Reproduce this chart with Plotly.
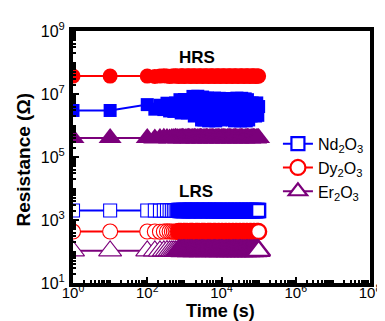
import plotly.graph_objects as go

# ---- data ----
time_s = [1, 10, 100, 160, 220, 280, 340, 400, 460, 520, 580, 640, 700, 760, 820, 880, 940, 1000,
          1100, 1200, 1300, 1400, 1500, 1600, 1700, 1850, 2000, 2150, 2300, 2500, 2700, 2900, 3100,
          3350, 3600, 3900, 4200, 4500, 4850, 5200, 5600, 6000, 6500, 7000, 7500, 8100, 8700, 9300,
          10000, 10800, 11600, 12500, 13500, 14500, 15600, 16800, 18000, 19400, 20800, 22400, 24000,
          26000, 28000, 30000, 32500, 35000, 37500, 40500, 43500, 46500, 50000, 54000, 58000, 62500,
          67000, 72000, 77500, 83000, 89000, 95000, 100000]

hrs_nd = [3.0e6, 3.0e6,
          4.6e6, 3.3e6, 4.4e6, 3.2e6,
          5.1e6, 2.9e6, 4.8e6, 2.8e6, 5.2e6, 3.0e6, 4.5e6,
          6.6e6, 2.5e6, 5.8e6, 2.6e6, 6.7e6, 3.4e6, 2.5e6, 6.2e6, 2.7e6, 6.6e6, 3.9e6,
          8.4e6, 2.0e6, 7.0e6, 2.1e6, 8.5e6, 2.4e6, 7.6e6, 1.5e6, 8.0e6,
          1.5e6, 7.3e6, 2.2e6, 7.4e6, 1.4e6, 5.0e6, 7.2e6, 1.5e6, 3.1e6, 7.4e6, 1.4e6, 6.8e6, 2.0e6,
          7.3e6, 1.5e6, 4.2e6, 7.1e6,
          4.8e6, 1.7e6, 4.5e6, 1.8e6, 4.7e6, 1.7e6,
          7.2e6, 1.5e6, 6.8e6, 1.4e6, 3.5e6, 7.4e6, 1.6e6, 6.9e6, 1.4e6, 7.3e6, 2.6e6, 1.5e6, 7.0e6,
          1.4e6, 6.6e6, 1.5e6,
          5.1e6, 2.0e6, 5.2e6, 2.1e6, 4.9e6, 2.0e6, 5.2e6, 2.1e6, 4.0e6]

hrs_dy = [3.7e7, 3.7e7, 3.7e7, 3.6e7, 3.7e7, 3.8e7, 3.7e7, 3.6e7, 3.7e7, 3.7e7, 3.8e7, 3.7e7,
          3.6e7, 3.7e7, 3.7e7, 3.8e7, 3.7e7, 3.6e7, 3.7e7, 3.7e7, 3.8e7, 3.7e7, 3.6e7, 3.7e7,
          3.7e7, 3.8e7, 3.7e7, 3.6e7, 3.7e7, 3.7e7, 3.8e7, 3.7e7, 3.6e7, 3.7e7, 3.7e7, 3.8e7,
          3.7e7, 3.6e7, 3.7e7, 3.7e7, 3.8e7, 3.7e7, 3.6e7, 3.7e7, 3.7e7, 3.8e7, 3.7e7, 3.6e7,
          3.7e7, 3.7e7, 3.8e7, 3.7e7, 3.6e7, 3.7e7, 3.7e7, 3.8e7, 3.7e7, 3.6e7, 3.7e7, 3.7e7,
          3.8e7, 3.7e7, 3.6e7, 3.7e7, 3.7e7, 3.8e7, 3.7e7, 3.6e7, 3.7e7, 3.7e7, 3.8e7, 3.7e7,
          3.6e7, 3.7e7, 3.7e7, 3.8e7, 3.7e7, 3.6e7, 3.7e7, 3.7e7, 3.7e7]

hrs_er = [4.0e5, 4.0e5, 4.0e5, 3.9e5, 4.0e5, 4.1e5, 4.0e5, 3.9e5, 4.0e5, 4.0e5, 4.1e5, 4.0e5,
          3.9e5, 4.0e5, 4.0e5, 4.1e5, 4.0e5, 3.9e5, 4.0e5, 4.0e5, 4.1e5, 4.0e5, 3.9e5, 4.0e5,
          4.0e5, 4.1e5, 4.0e5, 3.9e5, 4.0e5, 4.0e5, 4.1e5, 4.0e5, 3.9e5, 4.0e5, 4.0e5, 4.1e5,
          4.0e5, 3.9e5, 4.0e5, 4.0e5, 4.1e5, 4.0e5, 3.9e5, 4.0e5, 4.0e5, 4.1e5, 4.0e5, 3.9e5,
          4.0e5, 4.0e5, 4.1e5, 4.0e5, 3.9e5, 4.0e5, 4.0e5, 4.1e5, 4.0e5, 3.9e5, 4.0e5, 4.0e5,
          4.1e5, 4.0e5, 3.9e5, 4.0e5, 4.0e5, 4.1e5, 4.0e5, 3.9e5, 4.0e5, 4.0e5, 4.1e5, 4.0e5,
          3.9e5, 4.0e5, 4.0e5, 4.1e5, 4.0e5, 3.9e5, 4.0e5, 4.0e5, 4.0e5]

lrs_nd = [2.0e3, 2.0e3, 2.0e3, 2.0e3, 1.98e3, 2.0e3, 2.02e3, 2.0e3, 2.0e3, 1.98e3, 2.0e3, 2.0e3,
          2.02e3, 2.0e3, 2.0e3, 1.98e3, 2.0e3, 2.0e3, 2.02e3, 2.0e3, 1.98e3, 2.0e3, 2.0e3, 2.02e3,
          2.0e3, 1.98e3, 2.0e3, 2.0e3, 2.02e3, 2.0e3, 1.98e3, 2.0e3, 2.0e3, 2.02e3, 2.0e3, 1.98e3,
          2.0e3, 2.0e3, 2.02e3, 2.0e3, 1.96e3, 2.0e3, 2.0e3, 2.02e3, 1.95e3, 2.0e3, 2.0e3, 1.96e3,
          2.0e3, 2.0e3, 1.95e3, 2.0e3, 2.0e3, 1.96e3, 2.0e3, 2.0e3, 1.95e3, 2.0e3, 2.0e3, 1.96e3,
          2.0e3, 2.0e3, 1.95e3, 2.0e3, 2.0e3, 1.96e3, 2.0e3, 2.0e3, 1.95e3, 2.0e3, 2.0e3, 1.96e3,
          2.0e3, 2.0e3, 1.95e3, 2.0e3, 2.0e3, 1.96e3, 2.0e3, 2.0e3, 2.0e3]

lrs_dy = [4.3e2, 4.3e2, 4.3e2, 4.3e2, 4.25e2, 4.3e2, 4.35e2, 4.3e2, 4.3e2, 4.25e2, 4.3e2, 4.3e2,
          4.35e2, 4.3e2, 4.3e2, 4.25e2, 4.3e2, 4.3e2, 4.35e2, 4.3e2, 4.25e2, 4.3e2, 4.3e2, 4.35e2,
          4.3e2, 4.25e2, 4.3e2, 4.3e2, 4.35e2, 4.3e2, 4.25e2, 4.3e2, 4.3e2, 4.35e2, 4.3e2, 4.25e2,
          4.3e2, 4.3e2, 4.35e2, 4.3e2, 4.2e2, 4.3e2, 4.3e2, 4.35e2, 4.2e2, 4.3e2, 4.3e2, 4.2e2,
          4.3e2, 4.3e2, 4.2e2, 4.3e2, 4.3e2, 4.2e2, 4.3e2, 4.3e2, 4.2e2, 4.3e2, 4.3e2, 4.2e2,
          4.3e2, 4.3e2, 4.2e2, 4.3e2, 4.3e2, 4.2e2, 4.3e2, 4.3e2, 4.2e2, 4.3e2, 4.3e2, 4.2e2,
          4.3e2, 4.3e2, 4.2e2, 4.3e2, 4.3e2, 4.2e2, 4.3e2, 4.3e2, 4.3e2]

lrs_er = [1.05e2, 1.05e2, 1.05e2, 1.05e2, 1.04e2, 1.05e2, 1.06e2, 1.05e2, 1.05e2, 1.04e2, 1.05e2, 1.05e2,
          1.06e2, 1.05e2, 1.05e2, 1.04e2, 1.05e2, 1.05e2, 1.06e2, 1.05e2, 1.04e2, 1.05e2, 1.05e2, 1.06e2,
          1.05e2, 1.04e2, 1.05e2, 1.05e2, 1.06e2, 1.05e2, 1.04e2, 1.05e2, 1.05e2, 1.06e2, 1.05e2, 1.04e2,
          1.05e2, 1.05e2, 1.06e2, 1.05e2, 1.04e2, 1.05e2, 1.05e2, 1.06e2, 1.04e2, 1.05e2, 1.05e2, 1.04e2,
          1.05e2, 1.05e2, 1.04e2, 1.05e2, 1.05e2, 1.04e2, 1.05e2, 1.05e2, 1.04e2, 1.05e2, 1.05e2, 1.04e2,
          1.05e2, 1.05e2, 1.04e2, 1.05e2, 1.05e2, 1.04e2, 1.05e2, 1.05e2, 1.04e2, 1.05e2, 1.05e2, 1.04e2,
          1.05e2, 1.05e2, 1.04e2, 1.05e2, 1.05e2, 1.04e2, 1.05e2, 1.05e2, 1.05e2]

materials = ["Nd<sub>2</sub>O<sub>3</sub>", "Dy<sub>2</sub>O<sub>3</sub>", "Er<sub>2</sub>O<sub>3</sub>"]
colors = ["#0000FF", "#FF0000", "#7B007B"]
symbols = ["square", "circle", "triangle-up"]
sizes = [13, 15, 20]

x_tickvals = [1, 1e2, 1e4, 1e6, 1e8]
x_ticktext = ["10<sup>0</sup>", "10<sup>2</sup>", "10<sup>4</sup>", "10<sup>6</sup>", "10<sup>8</sup>"]
y_tickvals = [1e1, 1e3, 1e5, 1e7, 1e9]
y_ticktext = ["10<sup>1</sup>", "10<sup>3</sup>", "10<sup>5</sup>", "10<sup>7</sup>", "10<sup>9</sup>"]

FONT = "Liberation Sans, Arial, sans-serif"

# outline width of open markers: thin where sparse, thicker where markers crowd together
open_lw = [1.1 if t < 700 else 2.4 for t in time_s]

fig = go.Figure()

hrs = [hrs_nd, hrs_dy, hrs_er]
lrs = [lrs_nd, lrs_dy, lrs_er]

for i in range(3):
    fig.add_trace(go.Scatter(
        x=time_s, y=hrs[i], mode="lines+markers", showlegend=False,
        line=dict(color=colors[i], width=2),
        marker=dict(symbol=symbols[i], size=sizes[i], color=colors[i],
                    line=dict(color=colors[i], width=0)),
    ))

for i in range(3):
    fig.add_trace(go.Scatter(
        x=time_s, y=lrs[i], mode="lines+markers", name=materials[i],
        line=dict(color=colors[i], width=2),
        marker=dict(symbol=symbols[i], size=sizes[i], color="white",
                    line=dict(color=colors[i], width=open_lw)),
    ))

minor_x = [m * 10 ** d for d in range(0, 8) for m in range(2, 10)] + [10, 1e3, 1e5, 1e7]
minor_y = [m * 10 ** d for d in range(1, 9) for m in range(2, 10)] + [1e2, 1e4, 1e6, 1e8]

axis_common = dict(
    type="log", showgrid=False, zeroline=False,
    showline=True, linecolor="black", linewidth=4, mirror=True,
    ticks="inside", ticklen=6, tickwidth=2, tickcolor="black",
    tickfont=dict(family=FONT, size=16, color="black"),
)

fig.update_layout(
    width=385, height=321,
    margin=dict(l=65, r=13, t=22, b=46),
    paper_bgcolor="white", plot_bgcolor="white",
    xaxis=dict(axis_common, range=[0, 8], tickmode="array", tickvals=x_tickvals, ticktext=x_ticktext,
               ticklabelstandoff=-7, tickfont=dict(family=FONT, size=15, color="black"),
               minor=dict(tickvals=minor_x, ticks="inside", ticklen=3, tickwidth=1.5, tickcolor="black")),
    yaxis=dict(axis_common, range=[1, 9], tickmode="array", tickvals=y_tickvals, ticktext=y_ticktext,
               ticklabelstandoff=1,
               minor=dict(tickvals=minor_y, ticks="inside", ticklen=3, tickwidth=1.5, tickcolor="black")),
    legend=dict(x=0.69, y=0.62, xanchor="left", yanchor="top", bgcolor="rgba(0,0,0,0)",
                font=dict(family=FONT, size=16, color="black"), tracegroupgap=2),
    annotations=[
        dict(x=3.34, y=8.16, xref="x", yref="y", text="<b>HRS</b>", showarrow=False,
             font=dict(family=FONT, size=17, color="black")),
        dict(x=3.32, y=3.92, xref="x", yref="y", text="<b>LRS</b>", showarrow=False,
             font=dict(family=FONT, size=17, color="black")),
        dict(x=0.495, y=-0.11, xref="paper", yref="paper", xanchor="center", yanchor="middle",
             text="<b>Time (s)</b>", showarrow=False,
             font=dict(family=FONT, size=18, color="black")),
        dict(x=-0.165, y=0.49, xref="paper", yref="paper", xanchor="center", yanchor="middle",
             text="<b>Resistance (Ω)</b>", showarrow=False, textangle=-90,
             font=dict(family=FONT, size=19, color="black")),
    ],
)

fig.write_html("out.html")
